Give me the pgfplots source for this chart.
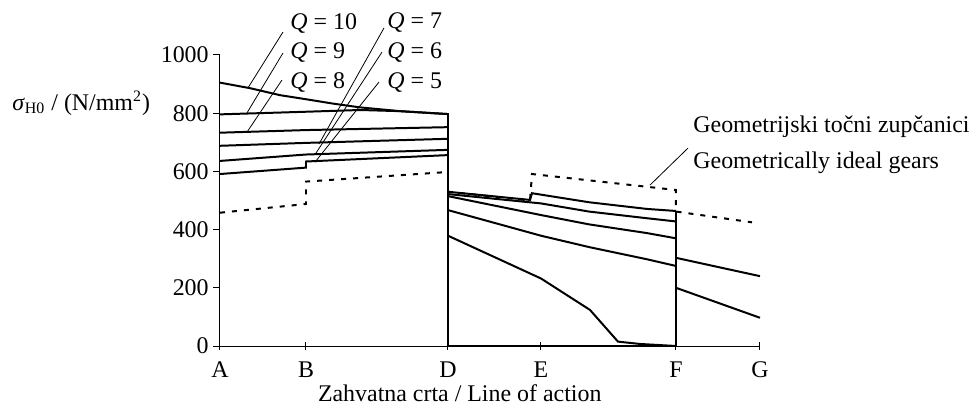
\documentclass[border=0pt]{standalone}
\usepackage{fontspec}
\setmainfont{Liberation Serif}
\usepackage{pgfplots}
\pgfplotsset{compat=1.18}
\tikzset{curve/.style={black, solid, line width=1pt, mark=none},
  ideal/.style={black, line width=1pt, mark=none, dash pattern=on 2.5bp off 3.5bp}}
\begin{document}
\fontsize{12}{14}\selectfont
\begin{tikzpicture}
\useasboundingbox (-110bp,-29.5bp) rectangle (377.5bp,173bp);
\begin{axis}[
  scale only axis, width=270bp, height=145.5bp,
  xmin=0, xmax=540, ymin=0, ymax=1000,
  axis x line=bottom, axis y line=left,
  axis line style={-, line width=0.5pt},
  xtick={0,86,228,321,456,540},
  xticklabels={A,B,D,E,F,G},
  ytick={0,200,400,600,800,1000},
  x tick style={black, line width=0.5pt, /pgfplots/tick align=center},
  y tick style={black, line width=0.5pt},
  tick align=outside, major tick length=3.5bp,
  /pgf/number format/assume math mode=true,
  /pgf/number format/1000 sep={},
  yticklabel style={xshift=2bp},
  tick label style={font=\fontsize{12}{14}\selectfont},
  xlabel={Zahvatna crta / Line of action},
  xlabel style={at={(axis description cs:0.444,0)}, anchor=north, yshift=-15bp},
  clip=false,
]
% Q = 10 .. 5, A--D
\addplot[curve] coordinates {(0,905) (30,886) (60,862) (86,848) (113,833) (140,820) (180,807) (228,797)};
\addplot[curve] coordinates {(0,796) (86,805) (140,811) (180,807) (228,797)};
\addplot[curve] coordinates {(0,733) (86,742) (228,752)};
\addplot[curve] coordinates {(0,688) (86,698) (228,712)};
\addplot[curve] coordinates {(0,636) (86,658) (228,674)};
\addplot[curve] coordinates {(0,591) (86,613) (86,634) (228,656)};
% D--F
\addplot[curve] coordinates {(228,530) (310,502) (312,525) (369,494) (427,471) (456,464)};
\addplot[curve] coordinates {(228,522) (321,490) (369,462) (427,439) (456,428)};
\addplot[curve] coordinates {(228,515) (321,450) (369,418) (427,388) (456,370)};
\addplot[curve] coordinates {(228,467) (321,379) (369,340) (427,298) (456,275)};
\addplot[curve] coordinates {(228,379) (321,232) (370,124) (398,15) (420,7) (456,0)};
% F--G
\addplot[curve] coordinates {(456,303) (540,240)};
\addplot[curve] coordinates {(456,200) (540,97)};
% vertical drops at D and F
\addplot[curve, line width=1.4pt] coordinates {(228,800) (228,0) (456,0) (456,464)};
% geometrically ideal gears
\addplot[ideal] coordinates {(0,458) (86,488) (86,565) (228,598)};
\addplot[ideal] coordinates {(228,530) (310,500) (312,591) (456,536) (456,462) (532,425)};
% annotations
\begin{scope}[every node/.style={inner sep=0pt, anchor=west}]
\node at (axis cs:70,1110) {\textit{Q} = 10};
\node at (axis cs:70,1007) {\textit{Q} = 9};
\node at (axis cs:70,907) {\textit{Q} = 8};
\node at (axis cs:167,1110) {\textit{Q} = 7};
\node at (axis cs:167,1007) {\textit{Q} = 6};
\node at (axis cs:167,907) {\textit{Q} = 5};
\node at (axis cs:473,753) {Geometrijski točni zupčanici};
\node at (axis cs:473,629) {Geometrically ideal gears};
\node at (axis cs:-208,835) {\textit{σ}\textsubscript{H0} / (N/mm\textsuperscript{2})};
\end{scope}
\draw[line width=0.4pt] (axis cs:63,1079) -- (axis cs:28,887);
\draw[line width=0.4pt] (axis cs:63,1007) -- (axis cs:27,801);
\draw[line width=0.4pt] (axis cs:62,914) -- (axis cs:27,735);
\draw[line width=0.4pt] (axis cs:164,1093) -- (axis cs:99,694);
\draw[line width=0.4pt] (axis cs:162,1010) -- (axis cs:96,663);
\draw[line width=0.4pt] (axis cs:159,907) -- (axis cs:95,632);
\draw[line width=0.4pt] (axis cs:468,680) -- (axis cs:430,553);
\end{axis}
\end{tikzpicture}
\end{document}
